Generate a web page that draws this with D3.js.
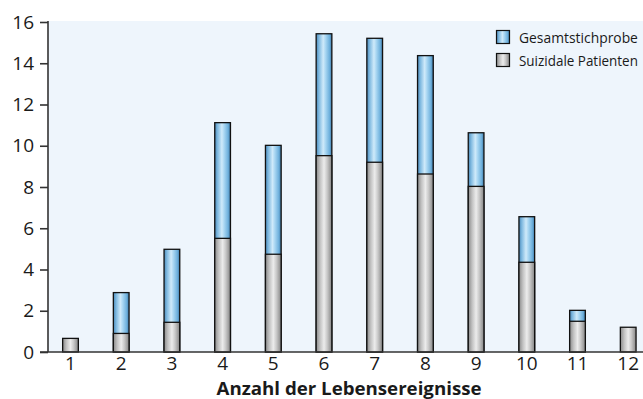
<!DOCTYPE html>
<html><head><meta charset="utf-8">
<script src="https://cdn.jsdelivr.net/npm/d3@7"></script>
<style>body{margin:0;background:#fff}svg{display:block}text{font-family:"Open Sans","Noto Sans",sans-serif;fill:#1a1a1a}</style>
</head><body><svg id="c" width="643" height="399"></svg>
<script>
const categories = ["1","2","3","4","5","6","7","8","9","10","11","12"];
const gesamt =    [0, 2.88, 4.98, 11.12, 10.02, 15.43, 15.21, 14.37, 10.63, 6.56, 2.02, 0];
const suizidal =  [0.66, 0.90, 1.44, 5.51, 4.74, 9.52, 9.20, 8.63, 8.03, 4.35, 1.49, 1.20];
const yTicks = [0,2,4,6,8,10,12,14,16];
const seriesNames = ["Gesamtstichprobe","Suizidale Patienten"];
const xTitle = "Anzahl der Lebensereignisse";

const svg = d3.select("#c");
const x = d3.scaleBand().domain(categories).range([45.15, 653.55]).paddingInner(0.69).paddingOuter(0.345);
const y = d3.scaleLinear().domain([0,16]).range([352, 22]);
const defs = svg.append("defs");
function grad(id, stops){
  const g = defs.append("linearGradient").attr("id", id).attr("x1","0").attr("x2","1").attr("y1","0").attr("y2","0");
  stops.forEach(s => g.append("stop").attr("offset", s[0]).attr("stop-color", s[1]));
}
grad("gBlue", [[0,"#4a88b8"],[0.18,"#7fb9e0"],[0.45,"#cfeafa"],[0.6,"#a8d6f2"],[0.85,"#6eb0dc"],[1,"#3f7aa8"]]);
grad("gGray", [[0,"#8a8a8a"],[0.25,"#c2c2c2"],[0.5,"#ececec"],[0.7,"#c9c9c9"],[1,"#858585"]]);

// background
svg.append("rect").attr("x",48).attr("y",21).attr("width",643-48).attr("height",352-21).attr("fill","#eef5fc");

// bars
const gb = svg.append("g");
gb.selectAll("rect.g").data(categories).join("rect")
  .attr("x", d => x(d)).attr("width", x.bandwidth())
  .attr("y", (d,i) => y(gesamt[i])).attr("height", (d,i) => y(0) - y(gesamt[i]))
  .attr("fill","url(#gBlue)").attr("stroke","#111").attr("stroke-width",1.3)
  .style("display",(d,i)=> gesamt[i] > suizidal[i] ? null : "none");
gb.selectAll("rect.s").data(categories).join("rect")
  .attr("x", d => x(d)).attr("width", x.bandwidth())
  .attr("y", (d,i) => y(suizidal[i])).attr("height", (d,i) => y(0) - y(suizidal[i]))
  .attr("fill","url(#gGray)").attr("stroke","#111").attr("stroke-width",1.3);

// y axis
const ya = svg.append("g").attr("transform","translate(48,0)")
  .call(d3.axisLeft(y).tickValues(yTicks).tickSize(8).tickPadding(6));
ya.select(".domain").attr("stroke","#333").attr("stroke-width",1.6).attr("d","M0,21V352");
ya.selectAll(".tick line").attr("stroke","#333").attr("stroke-width",1.6);
ya.selectAll("text").attr("font-size",19).attr("fill","#1a1a1a").attr("font-family","'Open Sans',sans-serif");

// x axis
const xa = svg.append("g").attr("transform","translate(0,352)")
  .call(d3.axisBottom(x).tickSize(0).tickPadding(4));
xa.select(".domain").attr("stroke","#333").attr("stroke-width",1.6).attr("d","M40,0H643");
xa.selectAll("text").attr("font-size",19).attr("fill","#1a1a1a").attr("font-family","'Open Sans',sans-serif");

svg.append("text").attr("x",349).attr("y",395).attr("text-anchor","middle")
  .attr("font-size",18).attr("font-weight","bold").attr("textLength",265).attr("lengthAdjust","spacingAndGlyphs")
  .text(xTitle);

// legend
const lg = svg.append("g");
const target = 119;
seriesNames.forEach((n,i) => {
  lg.append("rect").attr("x",496.5).attr("y",30.5 + i*23).attr("width",13).attr("height",13)
    .attr("fill", i===0 ? "url(#gBlue)" : "url(#gGray)").attr("stroke","#111").attr("stroke-width",1.2);
  const t = lg.append("text").attr("x",0).attr("y",0).attr("font-size",15).text(n);
  const w = t.node().getComputedTextLength();
  t.attr("transform", `translate(519,${43 + i*23}) scale(${target / w},1)`);
});
</script></body></html>
